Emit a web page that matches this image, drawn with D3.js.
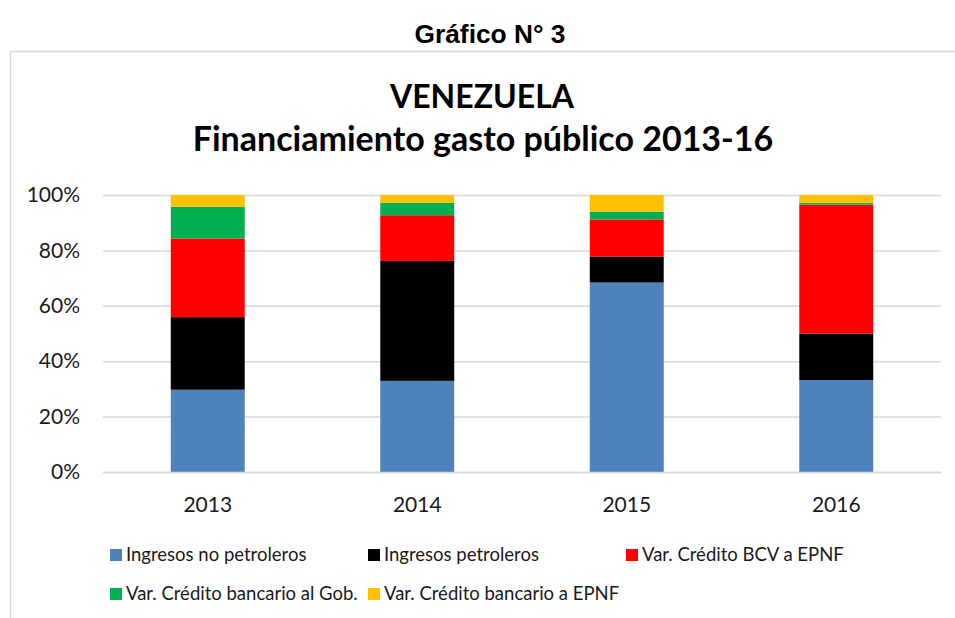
<!DOCTYPE html>
<html><head><meta charset="utf-8">
<script src="https://cdn.jsdelivr.net/npm/d3@7"></script>
<style>body{margin:0;background:#fff;} svg{display:block;font-family:Lato,"Open Sans",sans-serif;}</style>
</head><body>
<svg id="c" width="955" height="618"></svg>
<script>
const years = ["2013","2014","2015","2016"];
const seriesNames = ["Ingresos no petroleros","Ingresos petroleros","Var. Crédito BCV a EPNF","Var. Crédito bancario al Gob.","Var. Crédito bancario a EPNF"];
const seriesColors = ["#4f81bd","#000000","#ff0000","#00b050","#ffc000"];
const ingresosNoPetroleros = [29.7, 32.9, 68.4, 33.2];
const ingresosPetroleros   = [26.2, 43.3, 9.4, 16.8];
const creditoBCV           = [28.4, 16.5, 13.4, 46.5];
const creditoBancarioGob   = [11.4, 4.5, 2.8, 0.7];
const creditoBancarioEPNF  = [4.3, 2.8, 6.0, 2.8];
const yTicks = [0, 0.2, 0.4, 0.6, 0.8, 1.0];

const allSeries = [ingresosNoPetroleros, ingresosPetroleros, creditoBCV, creditoBancarioGob, creditoBancarioEPNF];
const keys = seriesNames;
const table = years.map((y, i) => {
  const row = {year: y};
  keys.forEach((k, j) => row[k] = allSeries[j][i]);
  return row;
});
const stacked = d3.stack().keys(keys).offset(d3.stackOffsetExpand)(table);

const FONT = "Lato, 'Open Sans', sans-serif";
const svg = d3.select("#c");
// outer header
svg.append("text").attr("x", 490).attr("y", 43).attr("text-anchor", "middle")
  .attr("font-size", 25).attr("font-weight", "bold").attr("fill", "#000")
  .attr("font-family", "'Liberation Sans', Arial, sans-serif")
  .attr("textLength", 151).attr("lengthAdjust", "spacingAndGlyphs")
  .text("Gráfico N° 3");
// chart border
svg.append("rect").attr("x", 10.5).attr("y", 51.5).attr("width", 960).attr("height", 600)
  .attr("fill", "none").attr("stroke", "#d9d9d9").attr("stroke-width", 1.5);

svg.append("text").attr("x", 482).attr("y", 108).attr("text-anchor", "middle")
  .attr("font-size", 32).attr("font-weight", "bold").attr("fill", "#000").text("VENEZUELA");
svg.append("text").attr("x", 483).attr("y", 151).attr("text-anchor", "middle")
  .attr("font-size", 34).attr("font-weight", "bold").attr("fill", "#000").text("Financiamiento gasto público 2013-16");

const x = d3.scaleBand().domain(years).range([103, 941]).paddingInner(0.647).paddingOuter(0.3235);
const y = d3.scaleLinear().domain([0, 1]).range([472, 195]);

// gridlines + y axis
const yAxis = d3.axisLeft(y).tickValues(yTicks).tickFormat(d3.format(".0%")).tickSize(-(941 - 103)).tickPadding(23);
const gy = svg.append("g").attr("transform", "translate(103,0)").call(yAxis)
  .attr("font-family", FONT);
gy.select(".domain").remove();
gy.selectAll(".tick line").attr("stroke", "#d9d9d9").attr("stroke-width", 1.5);
gy.selectAll(".tick text").attr("font-size", 21).attr("fill", "#1a1a1a");

// bars
svg.append("g").selectAll("g").data(stacked).join("g")
  .attr("fill", (d, i) => seriesColors[i])
  .selectAll("rect").data(d => d).join("rect")
  .attr("x", d => x(d.data.year))
  .attr("width", x.bandwidth())
  .attr("y", d => y(d[1]))
  .attr("height", d => y(d[0]) - y(d[1]));

// x axis
const xAxis = d3.axisBottom(x).tickSize(0).tickPadding(25);
const gx = svg.append("g").attr("transform", "translate(0,472)").call(xAxis)
  .attr("font-family", FONT);
gx.select(".domain").attr("stroke", "#d9d9d9").attr("stroke-width", 1.5);
gx.selectAll(".tick text").attr("font-size", 21).attr("fill", "#1a1a1a");

// legend
const legendPos = [[110, 555], [368, 555], [626, 555], [110, 594], [368, 594]];
const lg = svg.append("g").selectAll("g").data(seriesNames).join("g")
  .attr("transform", (d, i) => `translate(${legendPos[i][0]},${legendPos[i][1]})`);
lg.append("rect").attr("x", 0).attr("y", -6).attr("width", 12).attr("height", 12)
  .attr("fill", (d, i) => seriesColors[i]);
lg.append("text").attr("x", 16).attr("y", 0).attr("dy", "0.35em")
  .attr("font-size", 18.5).attr("fill", "#1a1a1a").text(d => d);
</script>
</body></html>
